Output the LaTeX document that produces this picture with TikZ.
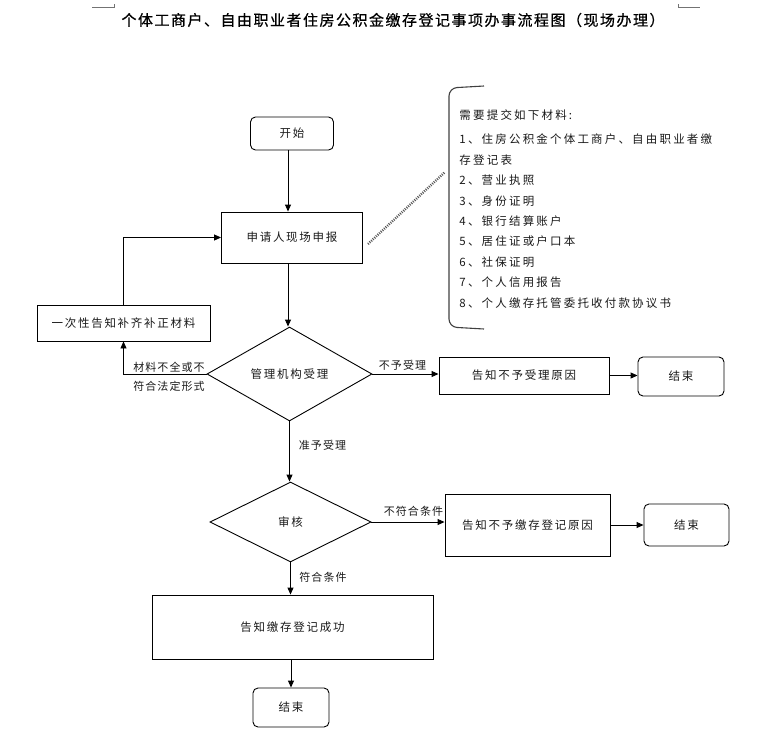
\documentclass[tikz,border=0pt]{standalone}
\usepackage{fontspec}
\setmainfont{Noto Sans CJK SC}
\newfontfamily\cjksp{Noto Sans CJK SC}[LetterSpace=15]
\newfontfamily\cjklst{Noto Sans CJK SC}[LetterSpace=19]
\newfontfamily\cjklab{Noto Sans CJK SC}[LetterSpace=10]
\newfontfamily\cjktitle{Noto Sans CJK SC}[LetterSpace=10, FakeBold=0.6]
\usetikzlibrary{shapes.geometric,arrows.meta}
\begin{document}
\begin{tikzpicture}[x=1pt,y=-1pt,
  line width=0.9pt,
  box/.style={draw, rectangle, inner sep=0pt, text=black!90, font=\cjksp\fontsize{11.5}{13}\selectfont},
  rbox/.style={box, rounded corners=5pt},
  dia/.style={draw, diamond, inner sep=0pt, text=black!90, font=\cjksp\fontsize{11.5}{13}\selectfont},
  lab/.style={inner sep=0pt, text=black!90, font=\cjklab\fontsize{11}{19}\selectfont},
  lst/.style={inner sep=0pt, anchor=west, text=black!90, font=\cjklst\fontsize{11.5}{13}\selectfont},
  arr/.style={-{Triangle[length=7pt,width=6pt]}},
  cornermark/.style={draw=black!55, line width=0.6pt},
]
\useasboundingbox (0,0) rectangle (776,742);
% page corner marks
\draw[cornermark] (92,7) -- (114,7) -- (114,4);
\draw[cornermark] (678,4) -- (678,7) -- (700,7);
% title
\node[inner sep=0pt, font=\cjktitle\fontsize{15}{18}\selectfont] (title) at (393,20)
  {个体工商户、自由职业者住房公积金缴存登记事项办事流程图（现场办理）};
% nodes
\node[rbox, minimum width=83, minimum height=33] (start) at (292,133.5) {开始};
\node[box, minimum width=141, minimum height=51] (apply) at (292,237.5) {申请人现场申报};
\node[box, minimum width=173, minimum height=36] (loop) at (123.5,323) {一次性告知补齐补正材料};
\node[dia, minimum width=165, minimum height=94] (d1) at (289.5,374) {管理机构受理};
\node[box, minimum width=170, minimum height=37] (rej1) at (524,375.5) {告知不予受理原因};
\node[rbox, minimum width=86, minimum height=39] (end1) at (681,376.5) {结束};
\node[dia, minimum width=161, minimum height=80] (d2) at (290.5,522) {审核};
\node[box, minimum width=165, minimum height=62] (rej2) at (527.5,525) {告知不予缴存登记原因};
\node[rbox, minimum width=85, minimum height=42] (end2) at (686.5,525) {结束};
\node[box, minimum width=281, minimum height=64] (succ) at (292.5,627) {告知缴存登记成功};
\node[rbox, minimum width=76, minimum height=39] (end3) at (291,707.5) {结束};
% spine
\coordinate (spA) at (288,0);
\draw[arr] (start.south -| spA) -- (apply.north -| spA);
\draw[arr] (apply.south -| spA) -- (d1.north -| spA);
\draw[arr] (d1.south) -- (d2.north -| d1.south);
\draw[arr] (d2.south) -- (succ.north -| d2.south);
\draw[arr] (succ.south -| end3.north) -- (end3.north);
% horizontal
\draw[arr] (d1.east) -- (d1.east -| rej1.west);
\draw[arr] (rej1.east) -- (rej1.east -| end1.west);
\draw[arr] (d2.east) -- (d2.east -| rej2.west);
\draw[arr] (rej2.east) -- (rej2.east -| end2.west);
% loop back
\draw[arr] (d1.west) -| (loop.south);
\draw[arr] (loop.north) |- (apply.west);
% labels
\node[lab] (l1) at (402.5,365) {不予受理};
\node[lab, align=center] (l2) at (169,376.5) {材料不全或不\\符合法定形式};
\node[lab] (l3) at (322.5,445) {准予受理};
\node[lab] (l4) at (413.5,511) {不符合条件};
\node[lab] (l5) at (323,577) {符合条件};
% materials list
\draw[black!75, line width=1.1pt, rounded corners=8pt] (484,86) -- (449,88) -- (449,327) -- (484,329);
\foreach \t/\yy [count=\i] in {需要提交如下材料:/115, 1、住房公积金个体工商户、自由职业者缴/139.5, 存登记表/159.9, 2、营业执照/180.3, 3、身份证明/200.7, 4、银行结算账户/221.1, 5、居住证或户口本/241.5, 6、社保证明/261.9, 7、个人信用报告/282.3, 8、个人缴存托管委托收付款协议书/302.7}
  \node[lst] (m\i) at (459,\yy) {\t};
% dotted link
\coordinate (dA) at (368,244);
\coordinate (dB) at (445,172);
\draw[black!65, line width=2.4pt, dash pattern=on 1pt off 1.2pt] (dA) -- (dB);
\end{tikzpicture}
\end{document}
